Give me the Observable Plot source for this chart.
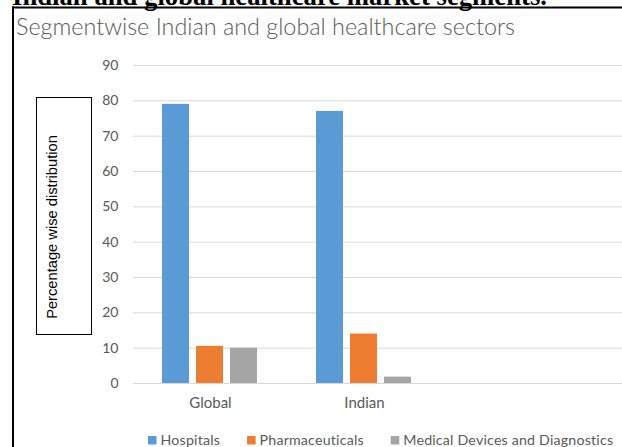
<!DOCTYPE html>
<html>
<head>
<meta charset="utf-8">
<script src="https://cdn.jsdelivr.net/npm/d3@7"></script>
<script src="https://cdn.jsdelivr.net/npm/@observablehq/plot@0.6"></script>
<style>
  html, body { margin: 0; padding: 0; background: #fff; }
  #wrap { position: relative; width: 622px; height: 447px; overflow: hidden; background: #fff; }
  #wrap > .layer { position: absolute; left: 0; top: 0; }
</style>
</head>
<body>
<div id="wrap"></div>
<script>
// ---- data ----
const categories = ["Global", "Indian"];
const series = ["Hospitals", "Pharmaceuticals", "Medical Devices and Diagnostics"];
const hospitals = [79, 77];
const pharmaceuticals = [10.5, 14];
const medicalDevices = [10, 1.8];
const yTicks = [0, 10, 20, 30, 40, 50, 60, 70, 80, 90];
const colors = ["#5b9bd5", "#ed7d31", "#a5a5a5"];
const heading = "Indian and global healthcare market segments.";
const title = "Segmentwise Indian and global healthcare sectors";
const yLabel = "Percentage wise distribution";

const valuesBySeries = [hospitals, pharmaceuticals, medicalDevices];
const rows = [];
series.forEach((s, i) => categories.forEach((c, j) => rows.push({category: c, series: s, value: valuesBySeries[i][j]})));

const wrap = document.getElementById("wrap");
const W = 622, H = 420, mT = 65, mB = 37, mL = 133;

// background plot: grid + y ticks
const gridPlot = Plot.plot({
  width: W, height: H, marginLeft: mL, marginRight: 0, marginTop: mT, marginBottom: mB,
  style: {background: "transparent", color: "#595959", fontFamily: "Lato", fontSize: "14px"},
  y: {domain: [0, 90]},
  marks: [
    Plot.ruleY(yTicks, {stroke: "#d9d9d9", strokeWidth: 1}),
    Plot.axisY(yTicks, {tickSize: 0, tickPadding: 15, label: null, fontSize: 14})
  ]
});
gridPlot.classList.add("layer");
wrap.appendChild(gridPlot);

// bars plot: faceted grouped bars
const barPlot = Plot.plot({
  width: W, height: H, marginLeft: mL, marginRight: W - 441, marginTop: mT, marginBottom: mB,
  style: {background: "transparent", color: "#595959", fontFamily: "Lato", fontSize: "15px"},
  fx: {domain: categories, padding: 0, axis: "bottom", tickSize: 0, tickPadding: 14, label: null},
  x: {domain: series, axis: null, paddingInner: 0.2, paddingOuter: 0.85},
  y: {domain: [0, 90], axis: null},
  color: {domain: series, range: colors},
  marks: [
    Plot.barY(rows, {fx: "category", x: "series", y: "value", fill: "series"})
  ]
});
barPlot.classList.add("layer");
wrap.appendChild(barPlot);

// decoration overlay
const svg = d3.select(wrap).append("svg").attr("class", "layer")
  .attr("width", 622).attr("height", 447);

svg.append("text").attr("x", 12).attr("y", 5)
  .attr("font-family", "Liberation Serif").attr("font-weight", "bold").attr("font-size", 26.5)
  .attr("fill", "#000").attr("textLength", 535).attr("lengthAdjust", "spacingAndGlyphs").text(heading);

svg.append("line").attr("x1", 12).attr("x2", 622).attr("y1", 7.5).attr("y2", 7.5)
  .attr("stroke", "#000").attr("stroke-width", 2);
svg.append("line").attr("x1", 13).attr("x2", 13).attr("y1", 6.5).attr("y2", 447)
  .attr("stroke", "#000").attr("stroke-width", 2);

svg.append("text").attr("x", 16).attr("y", 35)
  .attr("font-family", "Lato").attr("font-weight", 300).attr("font-size", 23)
  .attr("fill", "#595959").attr("textLength", 499).attr("lengthAdjust", "spacingAndGlyphs").text(title);

svg.append("rect").attr("x", 36.5).attr("y", 97.5).attr("width", 55).attr("height", 237)
  .attr("fill", "#fff").attr("stroke", "#000").attr("stroke-width", 1);
svg.append("text").attr("transform", "translate(57,227) rotate(-90)")
  .attr("text-anchor", "middle").attr("font-family", "Liberation Sans").attr("font-size", 14.7)
  .attr("fill", "#000").text(yLabel);

// legend
let lx = 148;
series.forEach((s, i) => {
  svg.append("rect").attr("x", lx).attr("y", 436).attr("width", 8.5).attr("height", 8.5).attr("fill", colors[i]);
  const t = svg.append("text").attr("x", lx + 12.5).attr("y", 445)
    .attr("font-family", "Lato").attr("font-size", 14.2).attr("letter-spacing", 0.2)
    .attr("fill", "#595959").text(s);
  lx = lx + 12.5 + t.node().getComputedTextLength() + 27;
});
</script>
</body>
</html>
